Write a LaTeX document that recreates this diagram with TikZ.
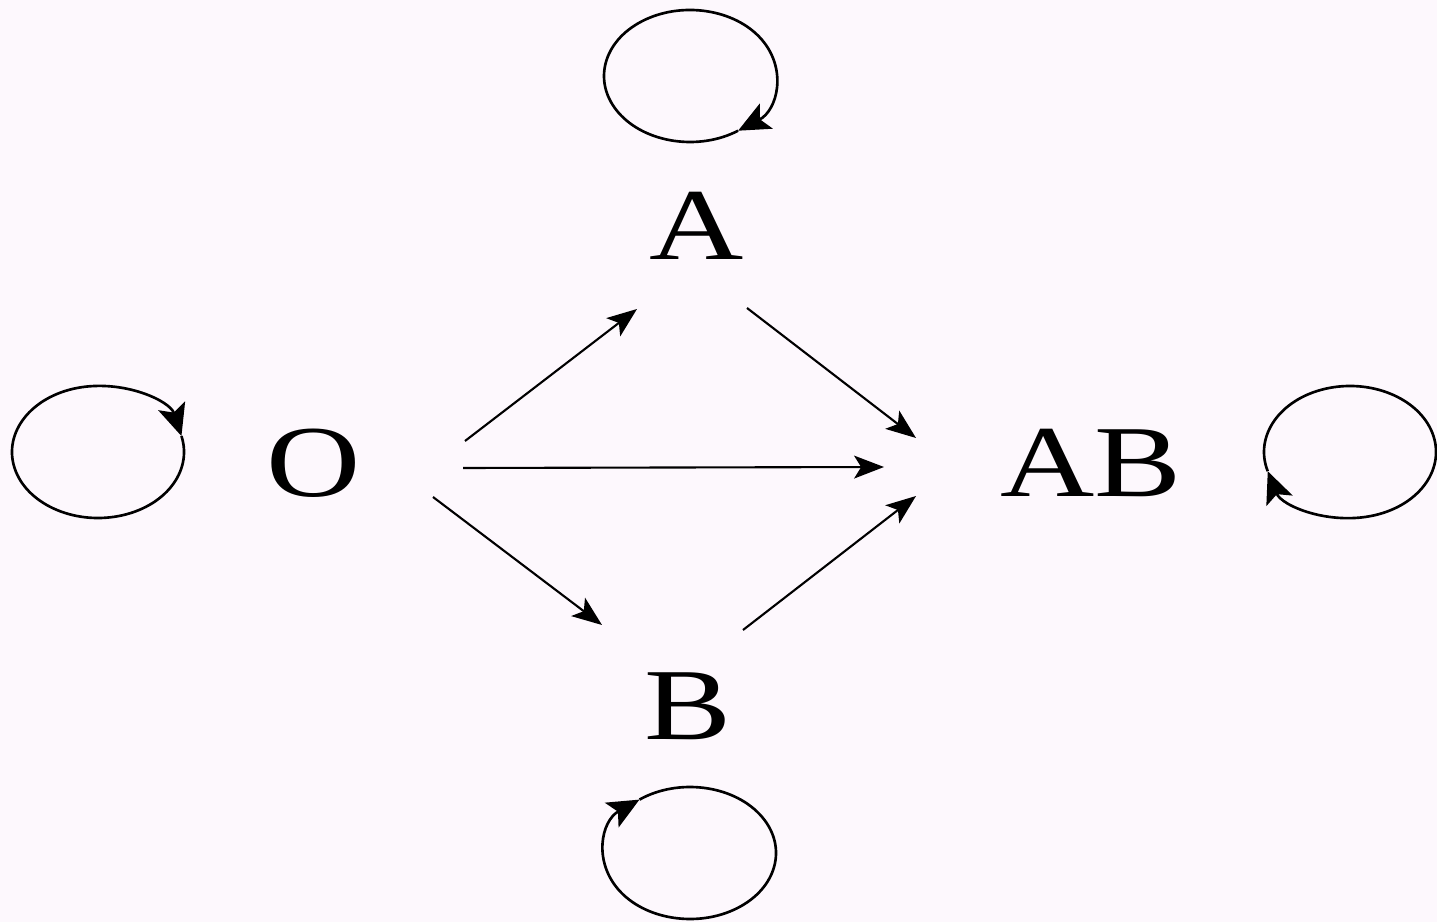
\documentclass[tikz,border=0pt]{standalone}
\usepackage{graphicx}
\usepackage{fontspec}
\setmainfont{Liberation Serif}
\usetikzlibrary{arrows.meta}
\definecolor{bgpink}{RGB}{253,248,253}
\newcommand\stx[1]{\scalebox{1.28}[1]{#1}}
\tikzset{
  lbl/.style={inner sep=0pt, font=\fontsize{29}{31}\selectfont},
  arr/.style={line width=0.6pt, -{Stealth[length=8.5pt,width=6.5pt,inset=2pt]}},
  loopline/.style={line width=0.75pt, -{Stealth[length=9pt,width=8pt,inset=2pt]}}
}
\begin{document}
\begin{tikzpicture}[x=0.01cm, y=-0.01cm]
\fill[bgpink] (0,0) rectangle (1437,922);
\useasboundingbox (0,0) rectangle (1437,922);
% state labels
\node[lbl] (A) at (697,226) {\stx{A}};
\node[lbl] (O) at (314,463) {\stx{O}};
\node[lbl] (AB) at (1091,463) {\stx{AB}};
\node[lbl] (B) at (688,706) {\stx{B}};
% connector end points
\coordinate (oa1) at (465,441);  \coordinate (oa2) at (637,309);
\coordinate (ob1) at (433,497);  \coordinate (ob2) at (602,625);
\coordinate (oab1) at (463,468); \coordinate (oab2) at (884,467);
\coordinate (aab1) at (747,308); \coordinate (aab2) at (916,438);
\coordinate (bab1) at (743,630); \coordinate (bab2) at (916,496);
\draw[arr] (oa1) -- (oa2);
\draw[arr] (ob1) -- (ob2);
\draw[arr] (oab1) -- (oab2);
\draw[arr] (aab1) -- (aab2);
\draw[arr] (bab1) -- (bab2);
% self loops (clockwise)
\coordinate (lA) at (690,76);
\coordinate (lO) at (98,452);
\coordinate (lAB) at (1350,452);
\coordinate (lB) at (690,853);
\draw[loopline] ([shift={(-56+360:86 and -66)}]lA) arc[start angle=304, end angle=-56, x radius=86, y radius=-66];
\draw[loopline] ([shift={(14+360:86 and -66)}]lO) arc[start angle=374, end angle=14, x radius=86, y radius=-66];
\draw[loopline] ([shift={(197+360:86 and -66)}]lAB) arc[start angle=557, end angle=197, x radius=86, y radius=-66];
\draw[loopline] ([shift={(126+360:86 and -66)}]lB) arc[start angle=486, end angle=126, x radius=86, y radius=-66];
\end{tikzpicture}
\end{document}
